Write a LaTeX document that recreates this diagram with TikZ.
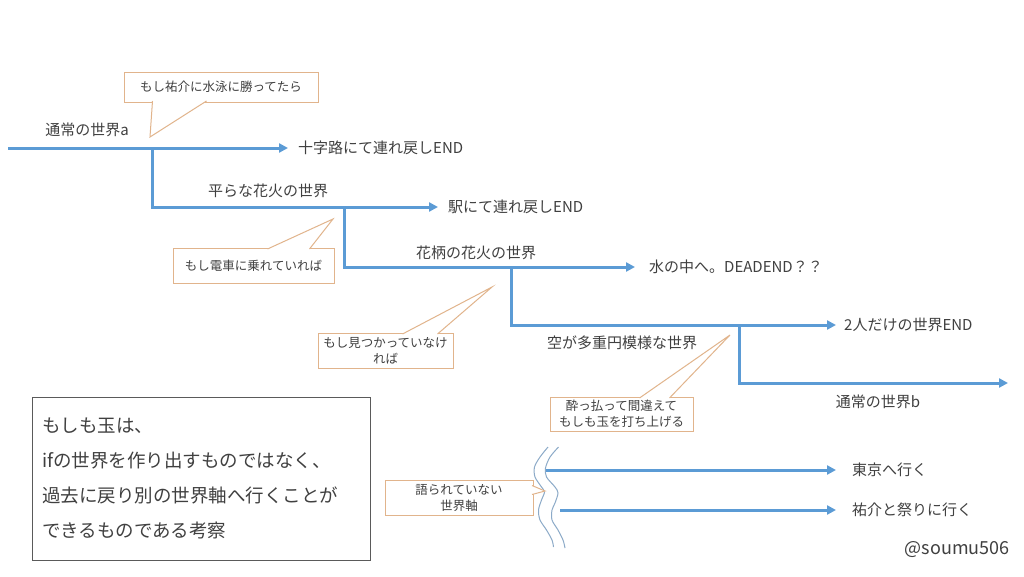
\documentclass[tikz,border=0pt]{standalone}
\usepackage{fontspec}
\setmainfont{Noto Sans CJK JP}
\usepackage{xcolor}
\usepackage{tikz}
\usetikzlibrary{
    positioning,
    arrows.meta,
    calc
}
\definecolor{worldBlue}{RGB}{91, 155, 213}
\definecolor{noteTan}{RGB}{225, 180, 140}
\definecolor{waveBlue}{RGB}{140, 170, 200}
\definecolor{textGray}{RGB}{64, 64, 64}
\definecolor{memoGray}{RGB}{90, 90, 90}

\begin{document}
\begin{tikzpicture}[x=1pt, y=-1pt, >={Triangle[length=9pt, width=9pt]},
    world/.style={->, line width=3pt, worldBlue},
    endlbl/.style={anchor=west, inner xsep=10pt, inner ysep=0pt, text=textGray, font=\fontsize{15}{18}\selectfont},
    worldlbl/.style={inner sep=0pt, text=textGray, font=\fontsize{15}{18}\selectfont},
    note/.style={draw=noteTan, fill=white, line width=1pt, inner sep=0pt, align=center, text=textGray, font=\fontsize{12.5}{16}\selectfont},
    notetip/.style={draw=noteTan, fill=white, line width=1pt},
    wave/.style={waveBlue, line width=1pt}]
        \fill[white] (0,0) rectangle (1024,576);
        \useasboundingbox (0,0) rectangle (1024,576);

        % world lines
        \coordinate (s0) at (8,148);
        \node[endlbl] (e1) at (288,148) {十字路にて連れ戻しEND};
        \draw[world] (s0) -- (e1.west);
        \node[worldlbl] (wa) at (87,130) {通常の世界a};

        \coordinate (b1) at (152,148);
        \node[endlbl] (e2) at (438,207) {駅にて連れ戻しEND};
        \draw[world] (b1) |- (e2.west);
        \node[worldlbl] (wb) at (268,191) {平らな花火の世界};

        \coordinate (b2) at (344,207);
        \node[endlbl, inner xsep=14pt] (e3) at (635,267) {水の中へ。DEADEND？？};
        \draw[world] (b2) |- (e3.west);
        \node[worldlbl] (wc) at (476,253) {花柄の花火の世界};

        \coordinate (b3) at (511,267);
        \node[endlbl, inner xsep=8pt] (e4) at (836,325) {2人だけの世界END};
        \draw[world] (b3) |- (e4.west);
        \node[worldlbl] (wd) at (622,343) {空が多重円模様な世界};

        \coordinate (b4) at (739,325);
        \coordinate (e5) at (1008,383);
        \draw[world] (b4) |- (e5);
        \node[worldlbl] (we) at (878,402) {通常の世界b};

        % callouts
        \node[note, minimum width=194pt, minimum height=30pt] (n1) at (221,87) {もし祐介に水泳に勝ってたら};
        \coordinate (p1) at (150,137);
        \filldraw[notetip] ($(n1.south west)+(29,-1.5)$) -- (p1) -- ($(n1.south west)+(83,-1.5)$);

        \node[note, minimum width=161pt, minimum height=35pt] (n2) at (253.5,265.5) {もし電車に乗れていれば};
        \coordinate (p2) at (333,219);
        \filldraw[notetip] ($(n2.north west)+(95,1.5)$) -- (p2) -- ($(n2.north west)+(137,1.5)$);

        \node[note, minimum width=135pt, minimum height=35pt] (n3) at (385.5,350.5) {もし見つかっていなけ\\れば};
        \coordinate (p3) at (492,287);
        \filldraw[notetip] ($(n3.north west)+(85,1.5)$) -- (p3) -- ($(n3.north west)+(120,1.5)$);

        \node[note, minimum width=143pt, minimum height=34pt] (n4) at (621.5,414) {酔っ払って間違えて\\もしも玉を打ち上げる};
        \coordinate (p4) at (730,335);
        \filldraw[notetip] ($(n4.north west)+(90,1.5)$) -- (p4) -- ($(n4.north west)+(120,1.5)$);

        % untold world lines
        \draw[wave] plot[smooth] coordinates {(548,447) (540,457) (534.5,467) (535,477) (541.5,487) (544.5,492) (541.5,500) (538.5,510) (540,520) (546.5,530) (552,540) (553.5,547)};
        \draw[wave] plot[smooth] coordinates {(558.5,447) (550,457) (545.5,468) (546.5,477) (555,487) (558,493) (555,503) (552,510) (552,520) (558,530) (563,540) (565,548)};

        \node[note, minimum width=148pt, minimum height=35pt] (n5) at (459,497.5) {語られていない\\世界軸};
        \coordinate (p5) at (545,491);
        \filldraw[notetip] ($(n5.north east)+(-1.5,6)$) -- (p5) -- ($(n5.north east)+(-1.5,15)$);

        \coordinate (w1) at (546,470);
        \coordinate (w2) at (560,510);
        \node[endlbl, inner xsep=16pt] (t1) at (836,470) {東京へ行く};
        \node[endlbl, inner xsep=16pt] (t2) at (836,510) {祐介と祭りに行く};
        \draw[world] (w1) -- (t1.west);
        \draw[world] (w2) -- (t2.west);

        % memo
        \node[draw=memoGray, line width=1pt, minimum width=338pt, minimum height=163pt, text width=318pt, inner xsep=10pt, align=left, text=textGray, font=\fontsize{18.5}{35}\selectfont] (memo) at (201,478.5) {もしも玉は、\\ifの世界を作り出すものではなく、\\過去に戻り別の世界軸へ行くことが\\できるものである考察};

        \node[anchor=east, inner sep=0pt, text=textGray, font=\fontsize{18}{20}\selectfont] (sig) at (1010,550) {@soumu506};
    \end{tikzpicture}
\end{document}
